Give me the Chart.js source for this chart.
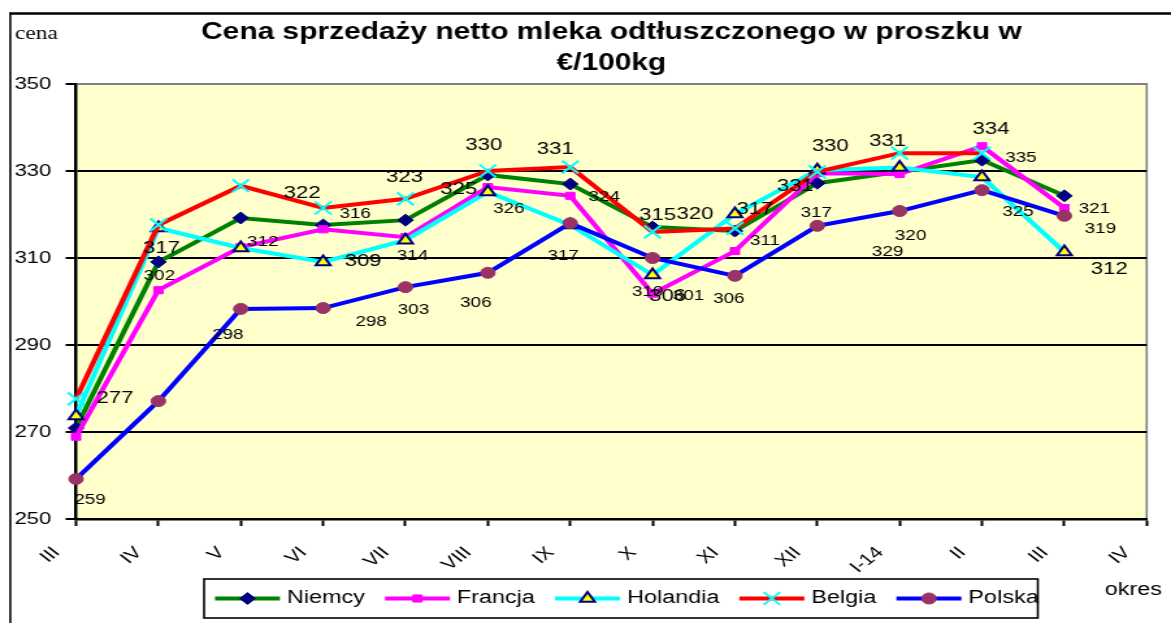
<!DOCTYPE html>
<html><head><meta charset="utf-8">
<script src="https://cdn.jsdelivr.net/npm/chart.js@4.4.0/dist/chart.umd.min.js"></script>
<style>
html,body{margin:0;padding:0;background:#fff;overflow:hidden;width:1171px;height:623px}
#wrap{position:absolute;left:0;top:0;width:901px;height:623px;transform:scaleX(1.2997);transform-origin:0 0}
canvas{display:block}
</style></head><body>
<div id="wrap"><canvas id="c" width="901" height="623" style="width:901px;height:623px"></canvas></div>
<script>
// ---- data ----
const categories = ['III','IV','V','VI','VII','VIII','IX','X','XI','XII','I-14','II','III','IV'];
const niemcy   = [270.9,309.1,319.2,317.6,318.7,329.1,327.0,317.1,316.2,327.2,329.8,332.5,324.3,null];
const francja  = [268.9,302.6,312.5,316.6,314.8,326.3,324.3,301.8,311.6,329.5,329.3,335.7,321.5,null];
const holandia = [273.7,316.9,312.3,309.1,314.1,325.2,317.6,306.1,320.1,330.2,330.8,328.6,311.4,null];
const belgia   = [277.6,317.6,326.6,321.5,323.6,330.0,330.9,316.0,316.8,329.8,334.1,334.1,null,null];
const polska   = [259.2,277.1,298.3,298.5,303.3,306.6,318.0,310.0,305.9,317.4,320.8,325.6,319.7,null];
const yTicks = [250,270,290,310,330,350];
const seriesNames = ['Niemcy','Francja','Holandia','Belgia','Polska'];
// data label texts as printed on the chart (per series, per category)
const lblNiemcy   = [null,null,null,null,null,null,null,null,null,null,null,null,null,null];
const lblFrancja  = [null,'302','312','316',null,'326','324','301','311',null,'329','335','321',null];
const lblHolandia = [null,'317',null,'309','314','325','317','306','320','330','331',null,'312',null];
const lblBelgia   = ['277',null,null,'322','323','330','331','315','317','331',null,'334',null,null];
const lblPolska   = ['259',null,'298','298','303','306',null,'310','306','317','320','325','319',null];

// ---- styling / placement (not data) ----
const SX = 1.2997;
const FONT = "'Liberation Sans', Arial, sans-serif";
const styles = [
  {line:'#008000', type:'rectRot',  r:6,   fill:'#000080', stroke:'#000080', bw:1, order:4},
  {line:'#FF00FF', type:'rect',     r:5,   fill:'#FF00FF', stroke:'#FF00FF', bw:1, order:3},
  {line:'#00FFFF', type:'triangle', r:6.5, fill:'#FFFF00', stroke:'#000080', bw:2, order:2},
  {line:'#FF0000', type:'crossRot', r:9,   fill:'#00FFFF', stroke:'#00FFFF', bw:2, order:1},
  {line:'#0000FF', type:'circle',   r:5.5, fill:'#993366', stroke:'#993366', bw:1, order:0}
];
// label offsets from their point, in reference pixels [dx, dy, big]
const lblPlace = {
  1:{1:[1,-14,0],2:[22,-5,0],3:[32,-15,0],5:[21,22,0],6:[34,1,0],7:[36,2,0],8:[30,-10,0],10:[-12,78,0],11:[39,12,0],12:[30,1,0]},
  2:{1:[3,20,1],3:[40,-1,1],4:[7,16,0],5:[-29,-3,1],6:[-7,31,0],7:[15,21,1],8:[-40,0,1],9:[13,-24,1],10:[-12,-26,1],12:[45,17,1]},
  3:{0:[39,-1,1],3:[-21,-15,1],4:[-1,-22,1],5:[-4,-26,1],6:[-15,-18,1],7:[5,-17,1],8:[20,-19,1],9:[-22,14,1],11:[9,-24,1]},
  4:{0:[14,21,0],2:[-13,26,0],3:[48,14,0],4:[8,23,0],5:[-12,30,0],7:[-5,34,0],8:[-6,23,0],9:[-1,-13,0],10:[11,25,0],11:[36,22,0],12:[36,13,0]}
};
const allData = [niemcy, francja, holandia, belgia, polska];
const allLbl = [lblNiemcy, lblFrancja, lblHolandia, lblBelgia, lblPolska];

function drawMarker(ctx, st, x, y){
  const r = st.r;
  ctx.save();
  ctx.fillStyle = st.fill; ctx.strokeStyle = st.stroke; ctx.lineWidth = st.bw;
  ctx.beginPath();
  if (st.type==='rectRot'){ ctx.moveTo(x-r,y); ctx.lineTo(x,y-r); ctx.lineTo(x+r,y); ctx.lineTo(x,y+r); ctx.closePath(); ctx.fill(); ctx.stroke(); }
  else if (st.type==='rect'){ const s=r*Math.SQRT1_2; ctx.rect(x-s,y-s,2*s,2*s); ctx.fill(); ctx.stroke(); }
  else if (st.type==='triangle'){ ctx.moveTo(x,y-r); ctx.lineTo(x+0.866*r,y+0.5*r); ctx.lineTo(x-0.866*r,y+0.5*r); ctx.closePath(); ctx.fill(); ctx.stroke(); }
  else if (st.type==='crossRot'){ const s=r*Math.SQRT1_2; ctx.moveTo(x-s,y-s); ctx.lineTo(x+s,y+s); ctx.moveTo(x+s,y-s); ctx.lineTo(x-s,y+s); ctx.stroke(); }
  else { ctx.arc(x,y,r,0,Math.PI*2); ctx.fill(); ctx.stroke(); }
  ctx.restore();
}

const decor = {
  id:'decor',
  beforeDraw(chart){
    const {ctx, chartArea:a} = chart;
    ctx.save();
    ctx.fillStyle = '#FFFFCC';
    ctx.fillRect(a.left, a.top, a.right-a.left, a.bottom-a.top);
    ctx.strokeStyle = '#000';
    ctx.lineWidth = 2.5;
    ctx.beginPath(); ctx.moveTo(7.2, 13.5); ctx.lineTo(901, 13.5); ctx.stroke();
    ctx.lineWidth = 1.6;
    ctx.beginPath(); ctx.moveTo(7.9, 12.5); ctx.lineTo(7.9, 623); ctx.stroke();
    // grey right border of plot
    ctx.strokeStyle = '#808080'; ctx.lineWidth = 1.6;
    ctx.beginPath(); ctx.moveTo(a.right, a.top-1); ctx.lineTo(a.right, a.bottom); ctx.stroke();
    ctx.restore();
  },
  afterDatasetsDraw(chart){
    const ctx = chart.ctx;
    ctx.save();
    ctx.fillStyle = '#000'; ctx.textAlign='center'; ctx.textBaseline='middle';
    Object.keys(lblPlace).forEach(s=>{
      const meta = chart.getDatasetMeta(+s);
      Object.keys(lblPlace[s]).forEach(i=>{
        const txt = allLbl[s][i]; if(!txt) return;
        const p = meta.data[+i]; const [dx,dy,big] = lblPlace[s][i];
        ctx.font = (big? '17px ' : '14.5px ') + FONT;
        ctx.fillText(txt, p.x + dx/SX, p.y + dy);
      });
    });
    ctx.restore();
  },
  afterDraw(chart){
    const ctx = chart.ctx;
    ctx.save();
    // keep the strip right of the plot clean
    ctx.fillStyle = '#fff';
    ctx.fillRect(895.5, 16, 6, 540);
    // axis captions
    ctx.fillStyle='#000'; ctx.textBaseline='alphabetic'; ctx.textAlign='left';
    ctx.font = "18px 'Liberation Serif', 'Times New Roman', serif";
    ctx.fillText('cena', 11.5, 39);
    ctx.font = '18px ' + FONT;
    ctx.fillText('okres', 850, 595);
    // legend
    ctx.strokeStyle='#000'; ctx.lineWidth=1.6;
    ctx.strokeRect(157, 579, 641.5, 39);
    let x = 165.4; const y = 598.5;
    ctx.font = '18px ' + FONT; ctx.textBaseline='middle';
    seriesNames.forEach((n,k)=>{
      const st = styles[k];
      ctx.strokeStyle = st.line; ctx.lineWidth = 4;
      ctx.beginPath(); ctx.moveTo(x, y); ctx.lineTo(x+50, y); ctx.stroke();
      drawMarker(ctx, st, x+25, y);
      ctx.fillStyle='#000';
      ctx.fillText(n, x+55.4, y);
      x += 55.4 + ctx.measureText(n).width + 15.4;
    });
    ctx.restore();
  }
};

const datasets = seriesNames.map((n,k)=>({
  label:n, data:allData[k], borderColor:styles[k].line, borderWidth:4, tension:0,
  pointStyle:styles[k].type, pointRadius:styles[k].r, pointBackgroundColor:styles[k].fill,
  pointBorderColor:styles[k].stroke, pointBorderWidth:styles[k].bw, order:styles[k].order, spanGaps:false
}));

new Chart(document.getElementById('c'), {
  type:'line',
  data:{labels:categories, datasets},
  options:{
    responsive:false, animation:false, devicePixelRatio:1, events:[],
    layout:{padding:{left:0,right:18.7,top:0,bottom:0}},
    plugins:{
      legend:{display:false}, tooltip:{enabled:false},
      title:{display:true, fullSize:false, color:'#000',
        text:['Cena sprzedaży netto mleka odtłuszczonego w proszku w','€/100kg'],
        font:{family:FONT, size:23, weight:'bold', lineHeight:1.348},
        padding:{top:17.5,bottom:4.5}}
    },
    scales:{
      x:{ offset:false, afterFit(s){ s.height = 104; s.paddingLeft = 0; s.paddingRight = 0; },
        grid:{drawOnChartArea:false, drawTicks:true, tickLength:7, tickColor:'#000', tickWidth:2},
        border:{color:'#000', width:2.5},
        ticks:{autoSkip:false, minRotation:45, maxRotation:45, color:'#000', font:{family:FONT,size:16.5}, padding:17, labelOffset:-15}},
      y:{ min:250, max:350, afterFit(s){ s.width = 58.5; },
        afterBuildTicks(s){ s.ticks = yTicks.map(v=>({value:v})); },
        grid:{color:c=> (c.tick && c.tick.value===350) ? '#808080' : '#000', lineWidth:2, drawTicks:true, tickLength:8, tickColor:'#000', tickWidth:2},
        border:{color:'#000', width:2.5},
        ticks:{color:'#000', font:{family:FONT,size:17}, padding:11}}
    }
  },
  plugins:[decor]
});
</script>
</body></html>
